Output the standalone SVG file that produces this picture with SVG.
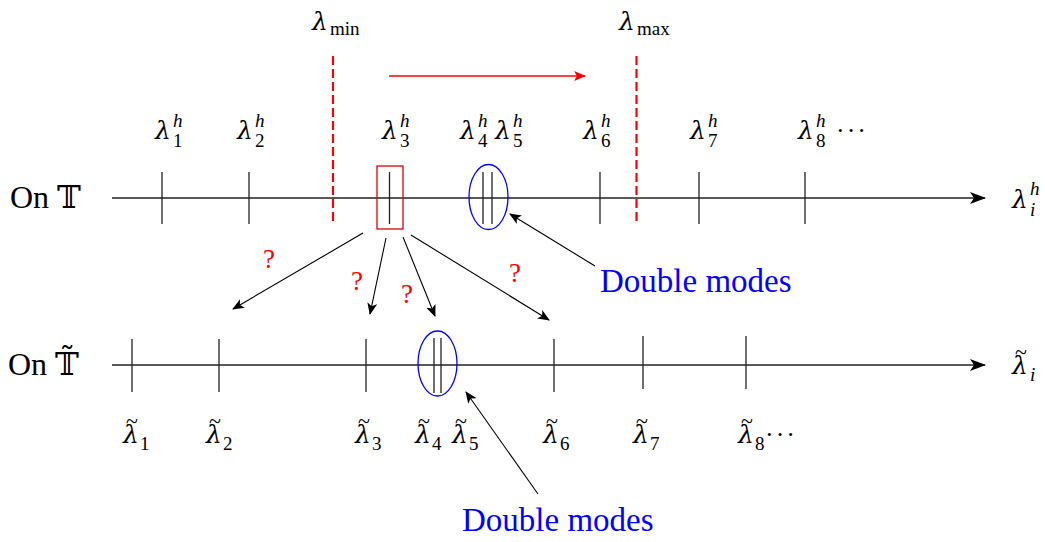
<svg xmlns="http://www.w3.org/2000/svg" width="1045" height="542" viewBox="0 0 1045 542">
<style>
.ax{stroke:#222;stroke-width:1.3;fill:none}
.tk{stroke:#222;stroke-width:1.3}
.lam{font-family:"DejaVu Serif","Liberation Serif",serif;font-style:italic;font-size:25px;fill:#000}
.tl{font-family:"Liberation Serif","DejaVu Serif",serif;font-style:normal;font-size:22px}
.sub{font-family:"Liberation Serif","DejaVu Serif",serif;font-style:normal;font-size:19px}
.subi{font-family:"Liberation Serif","DejaVu Serif",serif;font-style:italic;font-size:19px}
.big{font-family:"Liberation Serif","DejaVu Serif",serif;font-size:32px;fill:#000}
.dots{font-family:"Liberation Serif","DejaVu Serif",serif;font-size:26px;fill:#000;letter-spacing:2px}
.blue{font-family:"Liberation Serif","DejaVu Serif",serif;font-size:33px;fill:#0000ff}
.q{font-family:"Liberation Serif","DejaVu Serif",serif;font-size:27px;fill:#ff0000}
.conn{stroke:#000;stroke-width:1.1;fill:none}
</style>
<defs>
<marker id="ah" viewBox="0 0 12 10" refX="11" refY="5" markerWidth="12" markerHeight="10" markerUnits="userSpaceOnUse" orient="auto">
<path d="M0,0 L12,5 L0,10 L3,5 Z" fill="#000"/>
</marker>
<marker id="ahr" viewBox="0 0 12 10" refX="11" refY="5" markerWidth="12" markerHeight="10" markerUnits="userSpaceOnUse" orient="auto">
<path d="M0,0 L12,5 L0,10 L3,5 Z" fill="#ff0000"/>
</marker>
<marker id="ahb" viewBox="0 0 16 12" refX="15" refY="6" markerWidth="16" markerHeight="12" markerUnits="userSpaceOnUse" orient="auto">
<path d="M0,0 L16,6 L0,12 L4,6 Z" fill="#000"/>
</marker>
</defs>

<g id="top-axis">
<line class="ax" x1="112" y1="198" x2="985" y2="198" marker-end="url(#ahb)"/>
<line class="tk" x1="162" y1="172" x2="162" y2="224"/>
<line class="tk" x1="249" y1="172" x2="249" y2="224"/>
<line class="tk" x1="389.5" y1="172" x2="389.5" y2="224"/>
<line class="tk" x1="483" y1="172" x2="483" y2="224"/>
<line class="tk" x1="492" y1="172" x2="492" y2="224"/>
<line class="tk" x1="600" y1="172" x2="600" y2="224"/>
<line class="tk" x1="699" y1="172" x2="699" y2="224"/>
<line class="tk" x1="805" y1="172" x2="805" y2="224"/>
<text class="big" x="10" y="208">On 𝕋</text>
<text class="lam" x="1012" y="208">λ<tspan class="subi" x="1030" y="195">h</tspan><tspan class="subi" x="1030" y="216">i</tspan></text>
</g>

<g id="lambda-min">
<line x1="333" y1="56" x2="333" y2="224" stroke="#ff0000" stroke-width="2.2" stroke-dasharray="9,4"/>
<text class="lam" x="312" y="30">λ<tspan class="sub" x="330" y="35">min</tspan></text>
</g>
<g id="lambda-max">
<line x1="636.5" y1="56" x2="636.5" y2="224" stroke="#ff0000" stroke-width="2.2" stroke-dasharray="9,4"/>
<text class="lam" x="619" y="30">λ<tspan class="sub" x="637" y="35">max</tspan></text>
</g>

<g id="red-box">
<rect x="377" y="166" width="26" height="63" fill="none" stroke="#e00000" stroke-width="1.3"/>
</g>
<g id="double-top">
<ellipse cx="488.5" cy="197" rx="19.5" ry="32.5" fill="none" stroke="#0000ff" stroke-width="1.3"/>
</g>

<g id="top-labels">
<text class="lam" x="155" y="139">λ<tspan class="subi" x="173" y="127">h</tspan><tspan class="sub" x="173" y="147">1</tspan></text>
<text class="lam" x="237" y="139">λ<tspan class="subi" x="255" y="127">h</tspan><tspan class="sub" x="255" y="147">2</tspan></text>
<text class="lam" x="382" y="139">λ<tspan class="subi" x="400" y="127">h</tspan><tspan class="sub" x="400" y="147">3</tspan></text>
<text class="lam" x="460" y="139">λ<tspan class="subi" x="478" y="127">h</tspan><tspan class="sub" x="478" y="147">4</tspan></text>
<text class="lam" x="495" y="139">λ<tspan class="subi" x="513" y="127">h</tspan><tspan class="sub" x="513" y="147">5</tspan></text>
<text class="lam" x="583" y="139">λ<tspan class="subi" x="601" y="127">h</tspan><tspan class="sub" x="601" y="147">6</tspan></text>
<text class="lam" x="690" y="139">λ<tspan class="subi" x="708" y="127">h</tspan><tspan class="sub" x="708" y="147">7</tspan></text>
<text class="lam" x="798" y="139">λ<tspan class="subi" x="816" y="127">h</tspan><tspan class="sub" x="816" y="147">8</tspan></text>
<text class="dots" x="836" y="139">···</text>
</g>

<g id="bottom-axis">
<line class="ax" x1="112" y1="365" x2="985" y2="365" marker-end="url(#ahb)"/>
<line class="tk" x1="132" y1="339" x2="132" y2="392"/>
<line class="tk" x1="219" y1="339" x2="219" y2="392"/>
<line class="tk" x1="366" y1="339" x2="366" y2="392"/>
<line class="tk" x1="434" y1="338" x2="434" y2="393"/>
<line class="tk" x1="441" y1="338" x2="441" y2="393"/>
<line class="tk" x1="554" y1="339" x2="554" y2="392"/>
<line class="tk" x1="643" y1="336" x2="643" y2="389"/>
<line class="tk" x1="746" y1="336" x2="746" y2="389"/>
<text class="big" x="8" y="375">On 𝕋̃</text>
<text class="lam" x="1012" y="374">λ<tspan class="tl" x="1015" y="359">~</tspan><tspan class="subi" x="1030" y="381">i</tspan></text>
</g>
<g id="double-bottom">
<ellipse cx="437.5" cy="363.5" rx="19.5" ry="32.5" fill="none" stroke="#0000ff" stroke-width="1.3"/>
</g>

<g id="bottom-labels">
<text class="lam" x="123" y="443">λ<tspan class="tl" x="126" y="428">~</tspan><tspan class="sub" x="140" y="450">1</tspan></text>
<text class="lam" x="206" y="443">λ<tspan class="tl" x="209" y="428">~</tspan><tspan class="sub" x="223" y="450">2</tspan></text>
<text class="lam" x="355" y="443">λ<tspan class="tl" x="358" y="428">~</tspan><tspan class="sub" x="372" y="450">3</tspan></text>
<text class="lam" x="415" y="443">λ<tspan class="tl" x="418" y="428">~</tspan><tspan class="sub" x="432" y="450">4</tspan></text>
<text class="lam" x="452" y="443">λ<tspan class="tl" x="455" y="428">~</tspan><tspan class="sub" x="469" y="450">5</tspan></text>
<text class="lam" x="543" y="443">λ<tspan class="tl" x="546" y="428">~</tspan><tspan class="sub" x="560" y="450">6</tspan></text>
<text class="lam" x="633" y="443">λ<tspan class="tl" x="636" y="428">~</tspan><tspan class="sub" x="650" y="450">7</tspan></text>
<text class="lam" x="738" y="443">λ<tspan class="tl" x="741" y="428">~</tspan><tspan class="sub" x="755" y="450">8</tspan></text>
<text class="dots" x="765" y="443">···</text>
</g>

<g id="connectors">
<line x1="389" y1="76" x2="585" y2="76" stroke="#ff0000" stroke-width="1.6" marker-end="url(#ahr)"/>
<line class="conn" x1="363" y1="233" x2="233" y2="309" marker-end="url(#ah)"/>
<line class="conn" x1="386" y1="238" x2="370" y2="314" marker-end="url(#ah)"/>
<line class="conn" x1="403" y1="237" x2="435" y2="316" marker-end="url(#ah)"/>
<line class="conn" x1="411" y1="235" x2="549" y2="320" marker-end="url(#ah)"/>
<line class="conn" x1="595" y1="266" x2="510" y2="214" marker-end="url(#ah)"/>
<line class="conn" x1="538" y1="494" x2="466" y2="392" marker-end="url(#ah)"/>
</g>

<g id="question-marks">
<text class="q" x="263" y="268">?</text>
<text class="q" x="351" y="290">?</text>
<text class="q" x="401" y="303">?</text>
<text class="q" x="509" y="282">?</text>
</g>

<g id="double-modes-labels">
<text class="blue" x="600" y="292">Double modes</text>
<text class="blue" x="462" y="531">Double modes</text>
</g>
</svg>
